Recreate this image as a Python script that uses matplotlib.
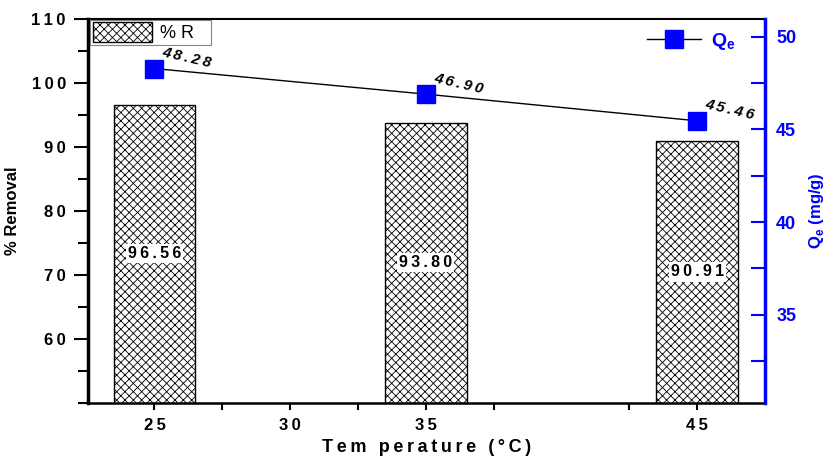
import matplotlib
matplotlib.use("Agg")
import matplotlib.pyplot as plt
from matplotlib.ticker import FixedLocator, MultipleLocator

# data
temps = [25, 35, 45]
removal = [96.56, 93.80, 90.91]
qe = [48.28, 46.90, 45.46]
xticks = [25, 30, 35, 45]
xminor = [27.5, 32.5, 37.5, 42.5]
left_ticks = [60, 70, 80, 90, 100, 110]
right_ticks = [35, 40, 45, 50]

plt.rcParams['font.family'] = ['Liberation Sans', 'DejaVu Sans']
plt.rcParams['mathtext.fontset'] = 'custom'
plt.rcParams['mathtext.rm'] = 'Liberation Sans'
plt.rcParams['mathtext.bf'] = 'Liberation Sans:bold'
plt.rcParams['hatch.linewidth'] = 0.6

TS = '\u2009'


def spaced(s):
    return TS.join(s)


fig = plt.figure(figsize=(8.35, 4.59), dpi=100)
ax = fig.add_axes([0.1054, 0.1227, 0.8108, 0.8353])
ax2 = ax.twinx()

bars = ax.bar(temps, removal, width=3.0, bottom=0, facecolor='white',
              edgecolor='black', hatch='xxxx', linewidth=1.0,
              label='% R   ')
for t, v in zip(temps, removal):
    ax.text(t, (50 + v) / 2, spaced(f"{v:.2f}"), ha='center', va='center',
            fontsize=11.5, fontweight='bold',
            bbox=dict(facecolor='white', edgecolor='none', pad=1.5))

ax.set_xlim(22.55, 47.5)
ax.set_ylim(50, 110)
ax.xaxis.set_major_locator(FixedLocator(xticks))
ax.xaxis.set_minor_locator(FixedLocator(xminor))
ax.set_xticklabels([spaced(str(t)) for t in xticks], fontsize=12,
                   fontweight='bold')
ax.yaxis.set_major_locator(FixedLocator(left_ticks))
ax.yaxis.set_minor_locator(MultipleLocator(5))
ax.set_yticklabels([spaced(str(t)) for t in left_ticks], fontsize=12,
                   fontweight='bold')
ax.tick_params(axis='y', which='major', direction='out', length=10,
               width=1.5, pad=6)
ax.tick_params(axis='y', which='minor', direction='out', length=7,
               width=1.5)
ax.tick_params(axis='x', which='both', direction='out', length=5,
               width=1.5, pad=6)
ax.set_xlabel(spaced("Tem perature (°C)"), fontsize=13, fontweight='bold',
              labelpad=4)
ax.set_ylabel("% Removal", fontsize=12, fontweight='bold', labelpad=8)

ax.spines['left'].set_linewidth(2.5)
ax.spines['bottom'].set_linewidth(1.8)
ax.spines['top'].set_linewidth(1.5)
ax.spines['right'].set_visible(False)

leg = ax.legend(loc='upper left', bbox_to_anchor=(0.003, 0.999),
                borderaxespad=0, borderpad=0.15, frameon=True,
                fancybox=False, edgecolor='0.4', handlelength=3.3,
                handleheight=1.3, handletextpad=0.4, fontsize=13)
leg.get_frame().set_linewidth(0.8)

ax2.plot(temps, qe, color='black', linewidth=1.0, marker='s',
         markersize=13, markerfacecolor='blue', markeredgecolor='blue',
         label=r'Q$_\mathbf{e}$')
for t, q in zip(temps, qe):
    ax2.annotate(spaced(f"{q:.2f}"), (t, q), xytext=(5, 9),
                 textcoords='offset points', ha='left', va='baseline',
                 rotation=-13, rotation_mode='anchor', fontsize=11,
                 fontweight='bold', fontstyle='italic')

ax2.set_ylim(30.25, 50.94)
ax2.yaxis.set_major_locator(FixedLocator(right_ticks))
ax2.yaxis.set_minor_locator(MultipleLocator(2.5))
ax2.set_yticklabels([str(t) for t in right_ticks], fontsize=13,
                    fontweight='bold', color='blue',
                    family=['Liberation Sans Narrow', 'Liberation Sans'])
ax2.tick_params(axis='y', which='both', direction='in', length=10,
                width=1.5, color='blue', pad=8)
ax2.spines['right'].set_color('blue')
ax2.spines['right'].set_linewidth(2.5)
for s in ['left', 'top', 'bottom']:
    ax2.spines[s].set_visible(False)
ax2.set_ylabel(r'Q$_\mathbf{e}$ (mg/g)', fontsize=12, fontweight='bold',
               color='blue', labelpad=8)

leg2 = ax2.legend(loc='upper right', bbox_to_anchor=(0.968, 0.99),
                  frameon=False, fontsize=14, labelcolor='blue',
                  handlelength=2.8, handletextpad=0.5, borderaxespad=0)
for t in leg2.get_texts():
    t.set_fontweight('bold')

fig.savefig("out.png", dpi=100)
